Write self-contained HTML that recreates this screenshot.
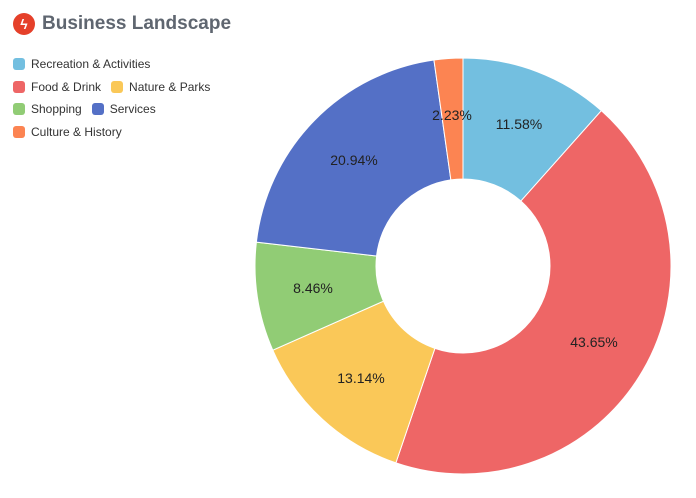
<!DOCTYPE html>
<html><head><meta charset="utf-8"><style>
body{margin:0;width:696px;height:498px;background:#fff;font-family:"Liberation Sans",sans-serif;overflow:hidden;position:relative}
.title{position:absolute;left:13px;top:13px;display:flex;align-items:center;font-weight:bold;font-size:19px;color:#5f6670}
.ic{width:22px;height:22px;border-radius:50%;background:#e5402a;margin-right:7px;display:flex;align-items:center;justify-content:center;color:#fff;font-size:14px}
.leg{position:absolute;left:13px;font-size:12px;color:#333;display:flex;align-items:center}
.sw{width:12px;height:12px;border-radius:3px;margin-right:6px;display:inline-block}
.it{display:flex;align-items:center;margin-right:10px}
svg{position:absolute;left:0;top:0}
</style></head><body>
<div class="title"><div class="ic">ϟ</div>Business Landscape</div>
<div class="leg" style="top:57px"><span class="it"><span class="sw" style="background:#73bfe0"></span>Recreation &amp; Activities</span></div>
<div class="leg" style="top:80px"><span class="it"><span class="sw" style="background:#ee6666"></span>Food &amp; Drink</span><span class="it"><span class="sw" style="background:#fac858"></span>Nature &amp; Parks</span></div>
<div class="leg" style="top:102px"><span class="it"><span class="sw" style="background:#91cc75"></span>Shopping</span><span class="it"><span class="sw" style="background:#5470c6"></span>Services</span></div>
<div class="leg" style="top:125px"><span class="it"><span class="sw" style="background:#fc8452"></span>Culture &amp; History</span></div>
<svg width="696" height="498" id="s">
<g id="g"></g>
<g font-family="Liberation Sans, sans-serif" font-size="14" fill="#222" text-anchor="middle">
<text x="519" y="129">11.58%</text>
<text x="594" y="347">43.65%</text>
<text x="361" y="383">13.14%</text>
<text x="313" y="293">8.46%</text>
<text x="354" y="165">20.94%</text>
<text x="452" y="120">2.23%</text>
</g>
</svg>
<script>
var d=[11.58,43.65,13.14,8.46,20.94,2.23],c=["#73bfe0","#ee6666","#fac858","#91cc75","#5470c6","#fc8452"];
var cx=463,cy=266,R=208,r=87,a=0,h="";
function p(rad,an){return [cx+rad*Math.sin(an),cy-rad*Math.cos(an)];}
for(var i=0;i<d.length;i++){var b=a+d[i]/100*2*Math.PI,l=(b-a)>Math.PI?1:0;
var A=p(R,a),B=p(R,b),C=p(r,b),D=p(r,a);
h+='<path d="M'+A+' A'+R+','+R+' 0 '+l+' 1 '+B+' L'+C+' A'+r+','+r+' 0 '+l+' 0 '+D+' Z" fill="'+c[i]+'" stroke="#fff" stroke-width="1"/>';a=b;}
document.getElementById("g").innerHTML=h;
</script>
</body></html>
